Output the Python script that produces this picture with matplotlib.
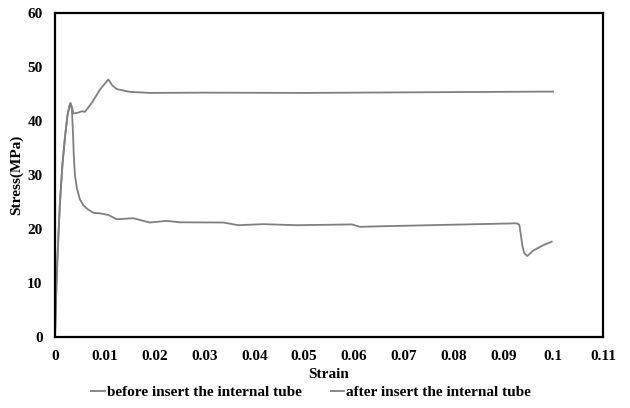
import matplotlib
matplotlib.use("Agg")
import matplotlib.pyplot as plt

# Data
strain_before = [0, 0.0003, 0.0006, 0.001, 0.0015, 0.002, 0.0025, 0.0029, 0.0031,
                 0.0034, 0.0036, 0.0038, 0.0040, 0.0044, 0.0050, 0.0057, 0.0065,
                 0.0077, 0.009, 0.0107, 0.0124, 0.0157, 0.019, 0.0224, 0.0251,
                 0.0338, 0.0368, 0.0418, 0.0485, 0.0596, 0.0612, 0.0653, 0.075,
                 0.085, 0.0927, 0.0932, 0.0935, 0.0938, 0.0942, 0.0948, 0.096,
                 0.098, 0.0997]
stress_before = [0, 10, 17, 25, 32, 37, 41, 42.8, 43.3,
                 42.0, 38.0, 33.0, 30.0, 27.5, 25.5, 24.4, 23.7,
                 23.0, 22.9, 22.6, 21.8, 22.0, 21.2, 21.5, 21.24,
                 21.2, 20.7, 20.9, 20.7, 20.85, 20.4, 20.5, 20.7,
                 20.9, 21.05, 20.8, 19.0, 17.0, 15.5, 15.0, 16.0,
                 17.0, 17.65]

strain_after = [0, 0.0003, 0.0006, 0.001, 0.0015, 0.002, 0.0025, 0.0029, 0.0031,
                0.0034, 0.0037, 0.0045, 0.0054, 0.006, 0.0075, 0.009, 0.0107,
                0.0115, 0.0124, 0.015, 0.019, 0.03, 0.05, 0.07, 0.09, 0.1]
stress_after = [0, 10, 17, 25, 32, 37, 41, 42.8, 43.3,
                42.6, 41.4, 41.5, 41.8, 41.7, 43.5, 45.8, 47.7,
                46.6, 45.9, 45.4, 45.2, 45.25, 45.2, 45.3, 45.4, 45.45]

labels = ["before insert the internal tube", "after insert the internal tube"]
xticks = [0, 0.01, 0.02, 0.03, 0.04, 0.05, 0.06, 0.07, 0.08, 0.09, 0.1, 0.11]
xtick_labels = ["0", "0.01", "0.02", "0.03", "0.04", "0.05", "0.06", "0.07",
                "0.08", "0.09", "0.1", "0.11"]
yticks = [0, 10, 20, 30, 40, 50, 60]

plt.rcParams['font.family'] = ['Liberation Serif', 'DejaVu Serif']
plt.rcParams['font.weight'] = 'bold'

fs = 11
fig = plt.figure(figsize=(6.3, 4.08), dpi=100)
ax = fig.add_axes([55/630, 1-337/408, (603-55)/630, (337-13)/408])

col = '#7f7f7f'
ax.plot(strain_before, stress_before, color=col, lw=1.3, label=labels[0])
ax.plot(strain_after, stress_after, color=col, lw=1.3, label=labels[1])

ax.set_xlim(0, 0.11)
ax.set_ylim(0, 60)
ax.set_xticks(xticks)
ax.set_xticklabels(xtick_labels)
ax.set_yticks(yticks)
ax.tick_params(length=0, labelsize=fs, pad=9)
for lab in ax.get_xticklabels() + ax.get_yticklabels():
    lab.set_fontweight('bold')
for s in ax.spines.values():
    s.set_linewidth(1.6)
    s.set_color('black')

ax.set_xlabel("Strain", fontsize=fs, fontweight='bold', labelpad=4)
ax.set_ylabel("Stress(MPa)", fontsize=fs, fontweight='bold', labelpad=3)

fig.legend(loc='center', bbox_to_anchor=(311/630, 1-392/408), ncol=2,
           frameon=False, handlelength=0.9, handletextpad=0.1,
           columnspacing=1.9, prop={'weight': 'bold', 'size': fs})

fig.savefig("out.png", dpi=100)
